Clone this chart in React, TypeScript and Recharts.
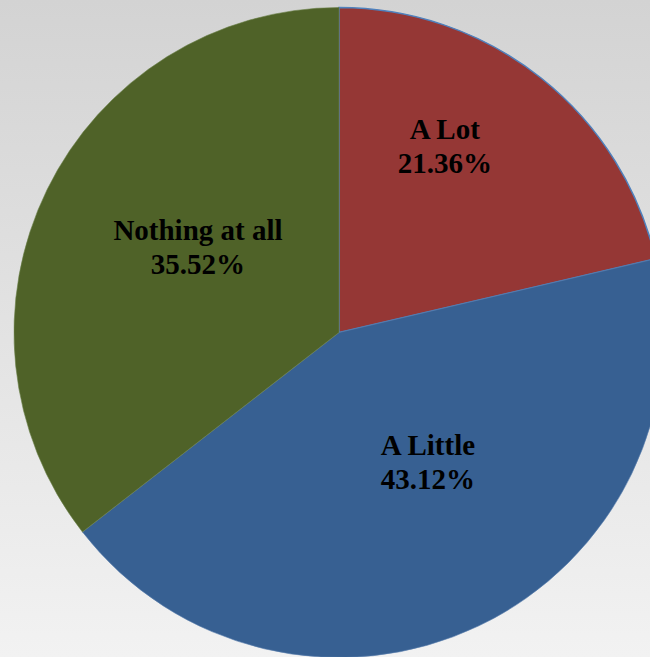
import { PieChart, Pie, Cell } from 'recharts'

const categories = ['A Lot', 'A Little', 'Nothing at all']
const shares = [21.36, 43.12, 35.52]

const COLORS = ['#953735', '#376092', '#4f6228']
const STROKES = ['#4f81bd', '#5a7fae', '#6a7f48']
const STROKE_W = [1.5, 0.6, 0.6]

// label placement per slice: fraction of radius, and clockwise shift (deg) from the slice middle
const LABEL_POS = [
    { r: 0.657, shift: -8.75 },
    { r: 0.486, shift: -8.8 },
    { r: 0.506, shift: 4.9 },
]

const data = categories.map((name, i) => ({ name, value: shares[i] }))

const RAD = Math.PI / 180

function SliceLabel(props: any) {
    const { cx, cy, midAngle, outerRadius, index, name, value } = props
    const pos = LABEL_POS[index]
    const a = (midAngle - pos.shift) * RAD
    const x = cx + outerRadius * pos.r * Math.cos(-a)
    const y = cy + outerRadius * pos.r * Math.sin(-a)
    return (
        <text
            x={x}
            y={y}
            textAnchor="middle"
            style={{
                fill: '#000',
                fontFamily: '"Liberation Serif", "Times New Roman", serif',
                fontWeight: 'bold',
                fontSize: 29,
            }}
        >
            <tspan x={x} y={y - 8}>{name}</tspan>
            <tspan x={x} y={y + 26}>{value.toFixed(2)}%</tspan>
        </text>
    )
}

export default function App() {
    return (
        <div
            style={{
                position: 'absolute',
                left: 0,
                top: 0,
                width: 650,
                height: 657,
                overflow: 'hidden',
                background: 'linear-gradient(#d3d3d3, #f2f2f2)',
            }}
        >
            <PieChart width={650} height={657} margin={{ top: 0, right: 0, bottom: 0, left: 0 }}>
                <Pie
                    data={data}
                    dataKey="value"
                    nameKey="name"
                    cx={339}
                    cy={332.5}
                    outerRadius={325}
                    startAngle={90}
                    endAngle={-270}
                    paddingAngle={0}
                    labelLine={false}
                    label={SliceLabel}
                    isAnimationActive={false}
                >
                    {data.map((entry, i) => (
                        <Cell key={entry.name} fill={COLORS[i]} stroke={STROKES[i]} strokeWidth={STROKE_W[i]} />
                    ))}
                </Pie>
            </PieChart>
        </div>
    )
}
